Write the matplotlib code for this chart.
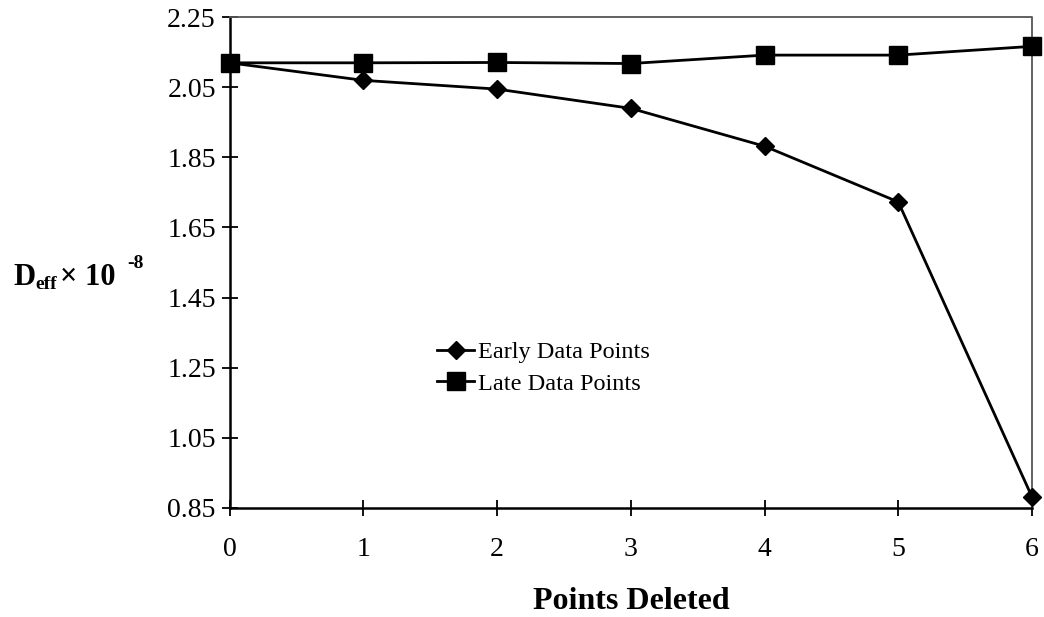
import numpy as np
import matplotlib.pyplot as plt

plt.rcParams['font.family'] = ['Liberation Serif', 'DejaVu Serif']

# diffusivity estimates after deleting points
points_deleted = [0, 1, 2, 3, 4, 5, 6]
early_points = [2.12, 2.07, 2.045, 1.99, 1.882, 1.723, 0.881]
late_points = [2.12, 2.12, 2.121, 2.118, 2.142, 2.142, 2.167]
y_ticks = [0.85, 1.05, 1.25, 1.45, 1.65, 1.85, 2.05, 2.25]

fig = plt.figure(figsize=(10.44, 6.17), dpi=100)
ax = fig.add_axes([0.220, 0.177, 0.7685, 0.795])

ax.plot(points_deleted, early_points, color='black', lw=2, marker='D', ms=9.5,
        label='Early Data Points', clip_on=False, zorder=3)
ax.plot(points_deleted, late_points, color='black', lw=2, marker='s', ms=12.5,
        label='Late Data Points', clip_on=False, zorder=3)

ax.set_xlim(0, 6)
ax.set_ylim(0.85, 2.25)
ax.set_xticks(points_deleted)
ax.set_yticks(y_ticks)
ax.set_yticklabels(['%.2f' % v for v in y_ticks])
ax.tick_params(direction='inout', length=12, width=1.3, labelsize=20, pad=4)
ax.tick_params(axis='x', pad=15)

for side in ['left', 'bottom']:
    ax.spines[side].set_linewidth(1.8)
    ax.spines[side].set_color('black')
for side in ['top', 'right']:
    ax.spines[side].set_linewidth(1.3)
    ax.spines[side].set_color('#555555')
    ax.spines[side].set_linestyle((0, (1.5, 1)))

ax.set_xlabel('Points Deleted', fontsize=23, fontweight='bold', labelpad=18)

# y label built from pieces so the exponent keeps a plain hyphen
fig.text(13 / 1044, 1 - 285 / 617, 'D', fontsize=22, fontweight='bold',
         va='baseline', ha='left')
fig.text(35 / 1044, 1 - 289 / 617, 'eff', fontsize=14, fontweight='bold',
         va='baseline', ha='left')
fig.text(60 / 1044, 1 - 285 / 617, '\u00d7 10', fontsize=22, fontweight='bold',
         va='baseline', ha='left')
fig.text(127 / 1044, 1 - 268 / 617, '-8', fontsize=14, fontweight='bold',
         va='baseline', ha='left')

ax.legend(loc='center left', bbox_to_anchor=(0.243, 0.285), frameon=False,
          fontsize=17.5, handlelength=1.55, handletextpad=0.15,
          labelspacing=0.37, borderpad=0)

fig.savefig('out.png', dpi=100)
